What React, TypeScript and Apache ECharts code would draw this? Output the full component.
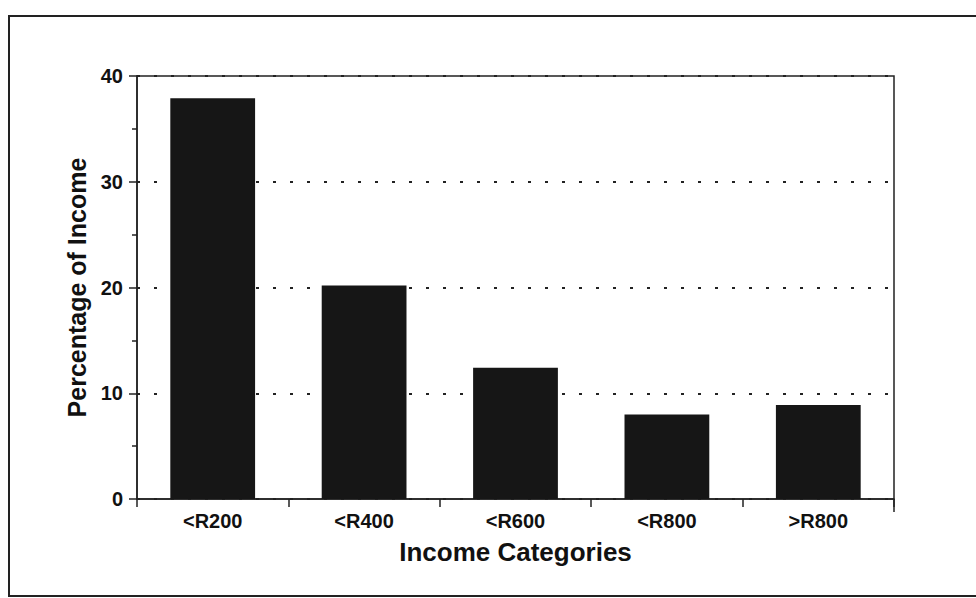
import React, { useEffect, useRef } from "react";
import * as echarts from "echarts";

const categories = ["<R200", "<R400", "<R600", "<R800", ">R800"];
const percentages = [37.9, 20.2, 12.4, 8.0, 8.9];
const yTicks = [0, 10, 20, 30, 40];

const FONT = "'Liberation Sans', Arial, Helvetica, sans-serif";

export default function App() {
  const ref = useRef<HTMLDivElement>(null);
  useEffect(() => {
    if (!ref.current) return;
    const chart = echarts.init(ref.current, undefined, { renderer: "svg" });
    chart.setOption({
      animation: false,
      backgroundColor: "#ffffff",
      grid: {
        left: 137,
        right: 82,
        top: 76,
        bottom: 99,
        show: true,
        borderColor: "#222",
        borderWidth: 1.5,
        backgroundColor: "transparent",
      },
      xAxis: {
        type: "category",
        data: categories,
        name: "Income Categories",
        nameLocation: "middle",
        nameGap: 40,
        nameTextStyle: { fontFamily: FONT, fontWeight: "bold", fontSize: 26, color: "#111" },
        axisLine: { show: true, lineStyle: { color: "#222", width: 1.5 } },
        axisTick: { show: true, length: 8, lineStyle: { color: "#222", width: 1.5 } },
        axisLabel: { fontFamily: FONT, fontWeight: "bold", fontSize: 20, color: "#111", margin: 12 },
      },
      yAxis: {
        type: "value",
        min: yTicks[0],
        max: yTicks[yTicks.length - 1],
        interval: 10,
        name: "Percentage of Income",
        nameLocation: "middle",
        nameGap: 45,
        nameTextStyle: { fontFamily: FONT, fontWeight: "bold", fontSize: 25, color: "#111" },
        axisLine: { show: true, lineStyle: { color: "#222", width: 1.5 } },
        axisTick: { show: true, length: 8, lineStyle: { color: "#222", width: 1.5 } },
        minorTick: { show: true, splitNumber: 2, length: 5, lineStyle: { color: "#222", width: 1.5 } },
        axisLabel: { fontFamily: FONT, fontWeight: "bold", fontSize: 20, color: "#111", margin: 14 },
        splitLine: {
          show: true,
          lineStyle: { color: "#222", width: 2, type: [3, 14] },
        },
      },
      series: [
        {
          type: "bar",
          data: percentages,
          barWidth: "56%",
          itemStyle: { color: "#161616" },
        },
      ],
      graphic: [
        {
          type: "rect",
          shape: { x: 9, y: 16, width: 990, height: 580 },
          style: { fill: "none", stroke: "#222", lineWidth: 2 },
          silent: true,
        },
        {
          type: "line",
          shape: { x1: 894, y1: 499, x2: 894, y2: 512 },
          style: { stroke: "#222", lineWidth: 1.5 },
          silent: true,
        },
      ],
    });
    return () => chart.dispose();
  }, []);
  return (
    <div
      ref={ref}
      style={{ position: "absolute", left: 0, top: 0, width: 976, height: 598 }}
    />
  );
}
